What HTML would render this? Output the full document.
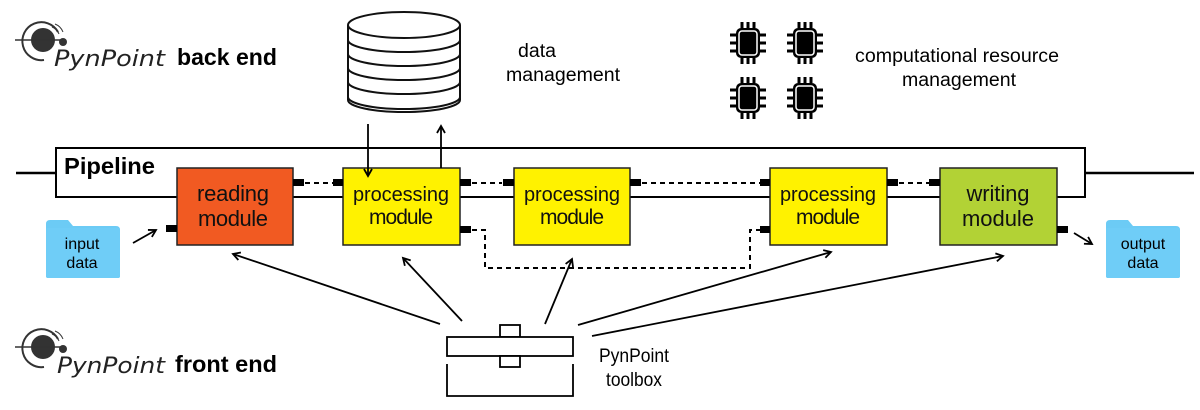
<!DOCTYPE html>
<html><head><style>
html,body{margin:0;padding:0;background:#fff;}
svg{display:block;font-family:"Liberation Sans",sans-serif;}
</style></head><body>
<svg width="1200" height="410" viewBox="0 0 1200 410" xmlns="http://www.w3.org/2000/svg">
<defs>
<marker id="ah" markerWidth="10" markerHeight="10" refX="8" refY="5" orient="auto" markerUnits="userSpaceOnUse">
<path d="M1,1 L8,5 L1,9" fill="none" stroke="#000" stroke-width="1.8"/>
</marker>
<g id="chip">
<rect x="6" y="6" width="24" height="30" rx="5" fill="#000"/>
<rect x="9" y="9" width="18" height="24" rx="3" fill="none" stroke="#fff" stroke-width="1.5"/>
<g stroke="#000" stroke-width="3">
<line x1="12" y1="0" x2="12" y2="6"/><line x1="18" y1="0" x2="18" y2="6"/><line x1="24" y1="0" x2="24" y2="6"/>
<line x1="12" y1="36" x2="12" y2="42"/><line x1="18" y1="36" x2="18" y2="42"/><line x1="24" y1="36" x2="24" y2="42"/>
<line x1="0" y1="13" x2="6" y2="13"/><line x1="0" y1="21" x2="6" y2="21"/><line x1="0" y1="29" x2="6" y2="29"/>
<line x1="30" y1="13" x2="36" y2="13"/><line x1="30" y1="21" x2="36" y2="21"/><line x1="30" y1="29" x2="36" y2="29"/>
</g>
</g>
<g id="logo">
<circle cx="43" cy="40" r="12" fill="#333"/>
<path d="M58,32 A19,19 0 1 0 44,60" fill="none" stroke="#333" stroke-width="2"/>
<line x1="15" y1="40" x2="62" y2="40" stroke="#333" stroke-width="1.5"/>
<circle cx="63" cy="42" r="4" fill="#333"/>
<path d="M52,27 A12,12 0 0 1 59,34 M55,24 A14,14 0 0 1 63,32" fill="none" stroke="#333" stroke-width="1"/>
</g>
<g id="folder">
<path d="M0,4 Q0,0 4,0 L22,0 L27,6 L70,6 Q74,6 74,10 L74,56 Q74,58 72,58 L2,58 Q0,58 0,56 Z" fill="#6ccbf5"/>
<rect x="0" y="8" width="74" height="50" rx="2" fill="#6fcdf7"/>
</g>
</defs>

<!-- logos -->
<use href="#logo" x="0" y="0"/>
<text x="54" y="66" font-size="22" font-style="italic" fill="#222" font-family="DejaVu Sans, sans-serif" textLength="111" lengthAdjust="spacingAndGlyphs">PynPoint</text>
<text x="177" y="65" font-size="23" font-weight="bold" textLength="100" lengthAdjust="spacingAndGlyphs">back end</text>
<use href="#logo" x="0" y="307"/>
<text x="57" y="373" font-size="22" font-style="italic" fill="#222" font-family="DejaVu Sans, sans-serif" textLength="108" lengthAdjust="spacingAndGlyphs">PynPoint</text>
<text x="175" y="372" font-size="23" font-weight="bold" textLength="102" lengthAdjust="spacingAndGlyphs">front end</text>

<!-- database -->
<g fill="#fff" stroke="#111" stroke-width="2">
<path d="M348,97 L348,100 A56,12 0 0 0 460,100 L460,97"/>
<path d="M348,25 L348,97 A56,12 0 0 0 460,97 L460,25"/>
<path d="M348,82 A56,12 0 0 0 460,82" fill="none"/>
<path d="M348,68 A56,12 0 0 0 460,68" fill="none"/>
<path d="M348,54 A56,12 0 0 0 460,54" fill="none"/>
<path d="M348,40 A56,12 0 0 0 460,40" fill="none"/>
<ellipse cx="404" cy="25" rx="56" ry="13"/>
</g>
<text x="537" y="57" font-size="19" text-anchor="middle" textLength="38" lengthAdjust="spacingAndGlyphs">data</text>
<text x="563" y="81" font-size="19" text-anchor="middle" textLength="114" lengthAdjust="spacingAndGlyphs">management</text>

<use href="#chip" x="730" y="22"/>
<use href="#chip" x="787" y="22"/>
<use href="#chip" x="730" y="77"/>
<use href="#chip" x="787" y="77"/>
<text x="957" y="62" font-size="19" text-anchor="middle" textLength="204" lengthAdjust="spacingAndGlyphs">computational resource</text>
<text x="959" y="86" font-size="19" text-anchor="middle" textLength="114" lengthAdjust="spacingAndGlyphs">management</text>

<!-- pipeline -->
<line x1="16" y1="173" x2="56" y2="173" stroke="#000" stroke-width="2.5"/>
<rect x="56" y="148" width="1029" height="49" fill="#fff" stroke="#000" stroke-width="2"/>
<line x1="1085" y1="173" x2="1194" y2="173" stroke="#000" stroke-width="2.5"/>
<text x="64" y="174" font-size="23" font-weight="bold" textLength="91" lengthAdjust="spacingAndGlyphs">Pipeline</text>

<!-- dashed connectors -->
<g stroke="#000" stroke-width="2" stroke-dasharray="5,4" fill="none">
<line x1="305" y1="183" x2="333" y2="183"/>
<line x1="472" y1="183" x2="502" y2="183"/>
<line x1="642" y1="183" x2="760" y2="183"/>
<line x1="899" y1="183" x2="929" y2="183"/>
<path d="M472,230 L485,230 L485,268 L750,268 L750,230 L760,230"/>
</g>

<!-- boxes -->
<g stroke="#222" stroke-width="1.5">
<rect x="177" y="168" width="116" height="77" fill="#f15a22"/>
<rect x="343" y="168" width="117" height="77" fill="#fff200"/>
<rect x="514" y="168" width="116" height="77" fill="#fff200"/>
<rect x="770" y="168" width="117" height="77" fill="#fff200"/>
<rect x="940" y="168" width="117" height="77" fill="#b2d235"/>
</g>
<g fill="#000">
<rect x="293" y="179" width="11" height="7"/><rect x="333" y="179" width="10" height="7"/>
<rect x="460" y="179" width="11" height="7"/><rect x="503" y="179" width="11" height="7"/>
<rect x="630" y="179" width="11" height="7"/><rect x="760" y="179" width="10" height="7"/>
<rect x="887" y="179" width="11" height="7"/><rect x="929" y="179" width="11" height="7"/>
<rect x="166" y="225" width="11" height="7"/>
<rect x="460" y="226" width="11" height="7"/>
<rect x="760" y="226" width="10" height="7"/>
<rect x="1057" y="226" width="11" height="7"/>
</g>
<g font-size="22" text-anchor="middle" fill="#111" lengthAdjust="spacingAndGlyphs">
<text x="233" y="201" textLength="72">reading</text><text x="233" y="226" textLength="70">module</text>
<text x="401" y="201" font-size="20" textLength="96">processing</text><text x="401" y="224" font-size="21" textLength="64">module</text>
<text x="572" y="201" font-size="20" textLength="96">processing</text><text x="572" y="224" font-size="21" textLength="64">module</text>
<text x="828" y="201" font-size="20" textLength="96">processing</text><text x="828" y="224" font-size="21" textLength="64">module</text>
<text x="998" y="201" textLength="63">writing</text><text x="998" y="226" textLength="72">module</text>
</g>

<!-- db arrows (on top of boxes) -->
<line x1="368" y1="124" x2="368" y2="176" stroke="#000" stroke-width="1.8" marker-end="url(#ah)"/>
<line x1="441" y1="168" x2="441" y2="126" stroke="#000" stroke-width="1.8" marker-end="url(#ah)"/>

<!-- folders -->
<use href="#folder" x="46" y="220"/>
<text x="82" y="249" font-size="16" text-anchor="middle">input</text>
<text x="82" y="268" font-size="16" text-anchor="middle">data</text>
<use href="#folder" x="1106" y="220"/>
<text x="1143" y="249" font-size="16" text-anchor="middle">output</text>
<text x="1143" y="268" font-size="16" text-anchor="middle">data</text>
<line x1="133" y1="243" x2="156" y2="230" stroke="#000" stroke-width="1.8" marker-end="url(#ah)"/>
<line x1="1074" y1="233" x2="1092" y2="244" stroke="#000" stroke-width="1.8" marker-end="url(#ah)"/>

<!-- toolbox arrows -->
<g stroke="#000" stroke-width="1.8" marker-end="url(#ah)">
<line x1="440" y1="324" x2="233" y2="254"/>
<line x1="462" y1="321" x2="403" y2="258"/>
<line x1="545" y1="324" x2="572" y2="259"/>
<line x1="578" y1="325" x2="831" y2="252"/>
<line x1="592" y1="336" x2="1003" y2="256"/>
</g>

<!-- toolbox -->
<g fill="#fff" stroke="#000" stroke-width="1.8">
<rect x="500" y="325" width="20" height="12"/>
<rect x="447" y="337" width="126" height="19"/>
<rect x="500" y="356" width="20" height="11"/>
<path d="M447,364 L447,396 L573,396 L573,364" fill="none"/>
</g>
<text x="634" y="362" font-size="19" text-anchor="middle" textLength="70" lengthAdjust="spacingAndGlyphs">PynPoint</text>
<text x="634" y="386" font-size="19" text-anchor="middle" textLength="56" lengthAdjust="spacingAndGlyphs">toolbox</text>
</svg>
</body></html>
